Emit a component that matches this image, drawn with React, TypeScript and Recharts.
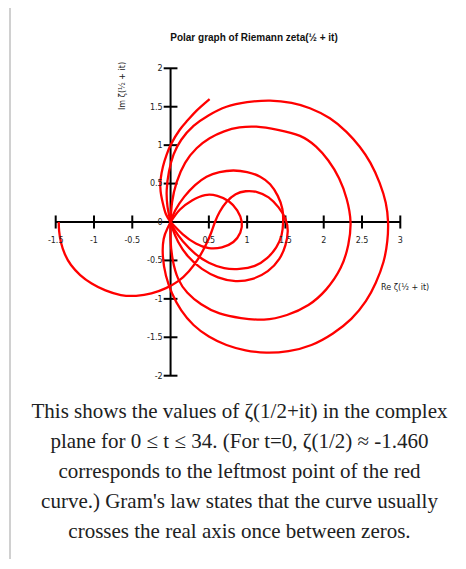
import { ScatterChart, Scatter, XAxis, YAxis, ReferenceLine } from 'recharts';

// zeta(1/2 + it) as [Re, Im] pairs, split at the zeros (every piece meets at 0,0)
const t0to14: [number, number][] = [
  [-1.46, 0], [-1.455, -0.12], [-1.43, -0.27], [-1.38, -0.42], [-1.3, -0.56], [-1.18, -0.69],
  [-1.03, -0.8], [-0.85, -0.89], [-0.65, -0.95], [-0.45, -0.96], [-0.25, -0.93], [-0.06, -0.86],
  [0.1, -0.77], [0.24, -0.64], [0.36, -0.48], [0.46, -0.3], [0.53, -0.14], [0.58, 0],
  [0.64, 0.13], [0.73, 0.26], [0.85, 0.36], [0.98, 0.4], [1.13, 0.39], [1.28, 0.32],
  [1.41, 0.19], [1.5, 0.04], [1.53, -0.12], [1.5, -0.3], [1.42, -0.48], [1.27, -0.64],
  [1.07, -0.74], [0.85, -0.77], [0.62, -0.72], [0.41, -0.61], [0.23, -0.45], [0.1, -0.26],
  [0.03, -0.1], [0, 0],
];
const t14to21: [number, number][] = [
  [0, 0], [0.02, 0.26], [0.08, 0.52], [0.19, 0.77], [0.34, 0.96], [0.51, 1.09], [0.7, 1.18],
  [0.9, 1.23], [1.12, 1.24], [1.4, 1.2], [1.69, 1.12], [1.9, 0.98], [2.06, 0.8], [2.2, 0.57],
  [2.3, 0.3], [2.35, 0], [2.32, -0.3], [2.22, -0.6], [2.03, -0.88], [1.8, -1.08], [1.52, -1.21],
  [1.22, -1.27], [0.92, -1.25], [0.64, -1.19], [0.4, -1.07], [0.22, -0.92], [0.1, -0.74],
  [0.03, -0.5], [0, -0.24], [0, 0],
];
const t21to25: [number, number][] = [
  [0, 0], [0.06, 0.15], [0.18, 0.33], [0.32, 0.48], [0.47, 0.59], [0.64, 0.65], [0.82, 0.67],
  [1.0, 0.65], [1.17, 0.59], [1.3, 0.49], [1.4, 0.34], [1.46, 0.17], [1.47, 0], [1.45, -0.17],
  [1.38, -0.33], [1.26, -0.47], [1.1, -0.57], [0.9, -0.61], [0.7, -0.6], [0.5, -0.53],
  [0.32, -0.41], [0.16, -0.25], [0.05, -0.1], [0, 0],
];
const t25to30: [number, number][] = [
  [0, 0], [-0.04, 0.2], [-0.05, 0.42], [-0.02, 0.66], [0.04, 0.88], [0.14, 1.07], [0.3, 1.25],
  [0.5, 1.39], [0.73, 1.5], [1.0, 1.56], [1.3, 1.58], [1.58, 1.55], [1.82, 1.48], [2.08, 1.35],
  [2.3, 1.17], [2.47, 0.98], [2.61, 0.77], [2.73, 0.51], [2.81, 0.25], [2.84, 0], [2.83, -0.25],
  [2.78, -0.52], [2.68, -0.79], [2.55, -1.03], [2.36, -1.26], [2.12, -1.45], [1.84, -1.6],
  [1.54, -1.68], [1.25, -1.7], [0.98, -1.67], [0.73, -1.6], [0.5, -1.49], [0.3, -1.34],
  [0.14, -1.15], [0.02, -0.93], [-0.06, -0.7], [-0.1, -0.45], [-0.09, -0.22], [-0.04, -0.08],
  [0, 0],
];
const t30to33: [number, number][] = [
  [0, 0], [0.12, 0.16], [0.28, 0.28], [0.45, 0.35], [0.61, 0.34], [0.76, 0.27], [0.87, 0.15],
  [0.93, 0], [0.91, -0.14], [0.82, -0.26], [0.67, -0.33], [0.5, -0.34], [0.33, -0.28],
  [0.16, -0.16], [0, 0],
];
const t33to34: [number, number][] = [
  [0, 0], [-0.06, 0.1], [-0.1, 0.24], [-0.13, 0.4], [-0.13, 0.55], [-0.1, 0.72], [-0.05, 0.88],
  [0.01, 1.02], [0.12, 1.2], [0.22, 1.32], [0.34, 1.45], [0.51, 1.6],
];

const pieces = [t0to14, t14to21, t21to25, t25to30, t30to33, t33to34];

const xTicks = [-1.5, -1, -0.5, 0.5, 1, 1.5, 2, 2.5, 3];
const yTicks = [2, 1.5, 1, 0.5, 0, -0.5, -1, -1.5, -2];

const tickFont = { fontSize: 8, fill: '#222', fontFamily: 'DejaVu Sans' };

const caption = [
  'This shows the values of ζ(1/2+it) in the complex',
  'plane for 0 ≤ t ≤ 34. (For t=0, ζ(1/2) ≈ -1.460',
  'corresponds to the leftmost point of the red',
  "curve.) Gram's law states that the curve usually",
  'crosses the real axis once between zeros.',
];

export default function App() {
  return (
    <div
      style={{
        position: 'relative',
        width: 466,
        height: 569,
        margin: -8,
        background: '#fff',
        overflow: 'hidden',
      }}
    >
      {/* thumbnail frame */}
      <div
        style={{
          position: 'absolute',
          left: 9,
          top: 7,
          width: 470,
          height: 551,
          borderTop: '1px solid #c8c8c8',
          borderLeft: '2px solid #d0d0d0',
        }}
      />

      <div
        style={{
          position: 'absolute',
          left: 0,
          width: 508,
          top: 32,
          textAlign: 'center',
          fontFamily: 'Liberation Sans',
          fontWeight: 'bold',
          fontSize: 10,
          lineHeight: '12px',
          color: '#111',
        }}
      >
        Polar graph of Riemann zeta(½ + it)
      </div>

      <div
        style={{
          position: 'absolute',
          left: 122,
          top: 85.5,
          transform: 'translate(-50%, -50%) rotate(-90deg)',
          whiteSpace: 'nowrap',
          fontFamily: 'DejaVu Sans',
          fontSize: 8,
          color: '#222',
        }}
      >
        Im ζ(½ + it)
      </div>

      <div
        style={{
          position: 'absolute',
          left: 381,
          top: 283,
          whiteSpace: 'nowrap',
          fontFamily: 'DejaVu Sans',
          fontSize: 8,
          lineHeight: '10px',
          color: '#222',
        }}
      >
        Re ζ(½ + it)
      </div>

      <div style={{ position: 'absolute', left: 0, top: 0 }}>
        <ScatterChart
          width={466}
          height={390}
          margin={{ top: 68.3, right: 65.7, bottom: 14.3, left: 55.7 }}
        >
          <XAxis type="number" dataKey="re" domain={[-1.5, 3]} allowDataOverflow hide />
          <YAxis type="number" dataKey="im" domain={[-2, 2]} allowDataOverflow hide />

          <ReferenceLine y={0} stroke="#000" strokeWidth={2} />
          <ReferenceLine x={0} stroke="#000" strokeWidth={2} />

          {xTicks.map((v) => (
            <ReferenceLine
              key={`x${v}`}
              segment={[
                { x: v, y: -0.085 },
                { x: v, y: 0.085 },
              ]}
              stroke="#000"
              strokeWidth={2}
              label={{ value: String(v), position: 'bottom', offset: 9, ...tickFont }}
            />
          ))}
          {yTicks.map((v) => (
            <ReferenceLine
              key={`y${v}`}
              segment={[
                { x: -0.09, y: v },
                { x: 0.09, y: v },
              ]}
              stroke="#000"
              strokeWidth={v === 0 ? 0 : 2}
              label={{ value: String(v), position: 'left', offset: 1, ...tickFont }}
            />
          ))}

          {pieces.map((piece, i) => (
            <Scatter
              key={i}
              data={piece.map(([re, im]) => ({ re, im }))}
              line={{ stroke: '#ff0000', strokeWidth: 2.3 }}
              lineJointType="natural"
              shape={() => <g />}
              fill="none"
              isAnimationActive={false}
            />
          ))}
        </ScatterChart>
      </div>

      <div
        style={{
          position: 'absolute',
          left: 11,
          width: 457,
          top: 396,
          textAlign: 'center',
          fontFamily: 'Liberation Serif',
          fontSize: 21,
          lineHeight: '30px',
          color: '#202122',
        }}
      >
        {caption.map((line, i) => (
          <div key={i}>{line}</div>
        ))}
      </div>
    </div>
  );
}
